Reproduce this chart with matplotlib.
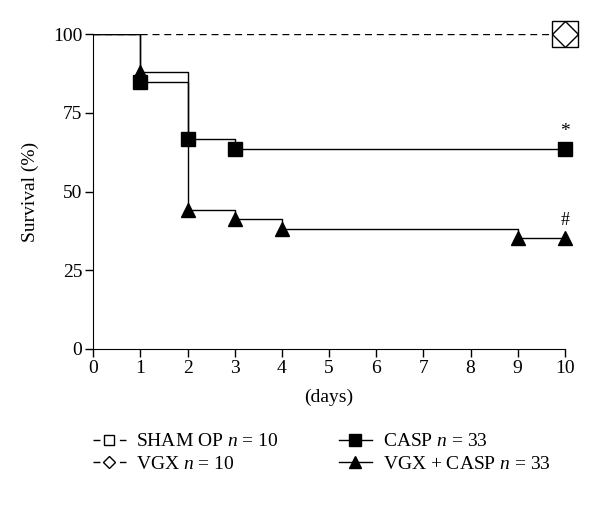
import matplotlib
matplotlib.use("Agg")
import matplotlib.pyplot as plt
from matplotlib.lines import Line2D

plt.rcParams['font.family'] = ['Liberation Serif', 'DejaVu Serif']
plt.rcParams['mathtext.fontset'] = 'custom'
plt.rcParams['mathtext.it'] = 'Liberation Serif:italic'
plt.rcParams['mathtext.rm'] = 'Liberation Serif'

# survival curves (days, % surviving)
sham_days = [0, 10]
sham_surv = [100, 100]
vgx_days = [0, 10]
vgx_surv = [100, 100]
casp_days = [0, 1, 2, 3, 10]
casp_surv = [100, 84.8, 66.7, 63.6, 63.6]
vgxcasp_days = [0, 1, 2, 3, 4, 9, 10]
vgxcasp_surv = [100, 87.9, 44.1, 41.2, 38.2, 35.3, 35.3]

x_ticks = list(range(0, 11))
y_ticks = [0, 25, 50, 75, 100]
labels = ['SHAM OP $n$ = 10', 'VGX $n$ = 10', 'CASP $n$ = 33', 'VGX + CASP $n$ = 33']

fig = plt.figure(figsize=(6, 5.08), dpi=100)
ax = fig.add_axes([0.1555, 0.313, 0.786, 0.62])

# sham and vgx: dashed line, open markers at the end
ax.plot(sham_days, sham_surv, ls=(0, (5, 3.5)), color='k', lw=1)
ax.plot(sham_days[-1:], sham_surv[-1:], ls='none', marker='s', ms=19, mfc='white',
        mec='k', mew=1, clip_on=False, zorder=5)
ax.plot(vgx_days[-1:], vgx_surv[-1:], ls='none', marker='D', ms=13.6, mfc='none',
        mec='k', mew=1, clip_on=False, zorder=6)

# step curves
ax.step(casp_days, casp_surv, where='post', color='k', lw=1)
ax.plot(casp_days[1:], casp_surv[1:], ls='none', marker='s', ms=9.5, color='k',
        clip_on=False, zorder=4)
ax.step(vgxcasp_days, vgxcasp_surv, where='post', color='k', lw=1)
ax.plot(vgxcasp_days[1:], vgxcasp_surv[1:], ls='none', marker='^', ms=10.5, color='k',
        clip_on=False, zorder=4)

ax.text(10, casp_surv[-1] + 2.6, '*', ha='center', va='bottom', fontsize=14)
ax.text(10, vgxcasp_surv[-1] + 2.8, '#', ha='center', va='bottom', fontsize=13)

ax.set_xlim(0, 10)
ax.set_ylim(0, 100)
ax.set_xticks(x_ticks)
ax.set_yticks(y_ticks)
ax.spines['top'].set_visible(False)
ax.spines['right'].set_visible(False)
ax.tick_params(direction='out', length=5.5, width=1, labelsize=14, pad=2.5)
ax.set_xlabel('(days)', fontsize=14, labelpad=8)
ax.set_ylabel('Survival (%)', fontsize=14, labelpad=10)

dash = (0, (5, 14))
handles = [
    Line2D([], [], color='k', lw=1, ls=dash, marker='s', ms=7, mfc='white', mec='k'),
    Line2D([], [], color='k', lw=1, ls=dash, marker='D', ms=6, mfc='white', mec='k'),
    Line2D([], [], color='k', lw=1, marker='s', ms=8),
    Line2D([], [], color='k', lw=1, marker='^', ms=9),
]
fig.legend(handles, labels, ncol=2, loc='upper left', bbox_to_anchor=(0.138, 0.167),
           frameon=False, fontsize=14, handlelength=1.7, handletextpad=0.55,
           columnspacing=3.1, labelspacing=0.25, borderpad=0)

fig.savefig('out.png', dpi=100)
